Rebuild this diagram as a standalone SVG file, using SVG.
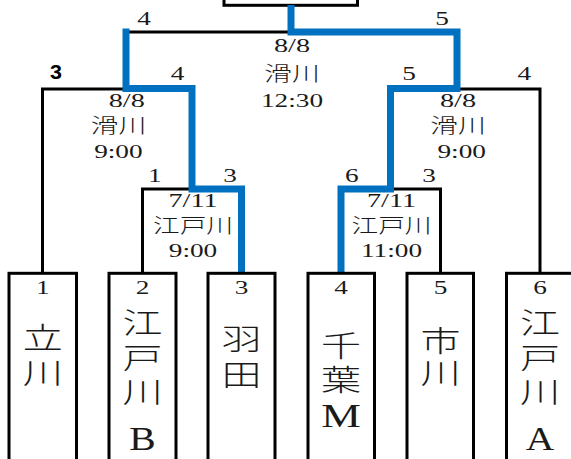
<svg xmlns="http://www.w3.org/2000/svg" width="571" height="459" viewBox="0 0 571 459">
<style>
.bg{fill:#fff}
.box{fill:#fff;stroke:#000;stroke-width:3}
.blk{fill:none;stroke:#000;stroke-width:3;stroke-linecap:square}
.blu{fill:none;stroke:#0070C0;stroke-width:7;stroke-linecap:butt;stroke-linejoin:miter}
text{font-family:"Liberation Serif","Noto Sans CJK JP",serif;text-anchor:middle;fill:#1a1a1a}
.n{font-size:19.5px}
.k{font-size:20.5px;font-family:"Noto Sans CJK JP",sans-serif;font-weight:300}
.b{font-size:19.5px;font-family:"Liberation Sans",sans-serif;font-weight:bold;fill:#000}
.bk{font-size:29px;font-family:"Noto Sans CJK JP",sans-serif;font-weight:300;writing-mode:vertical-rl;text-anchor:start;letter-spacing:5.5px}
.bl{font-size:33px}
</style>
<rect class="bg" x="0" y="0" width="571" height="459"/>
<g id="final-box"><rect class="box" x="224" y="-20" width="133.5" height="25.3"/></g>
<g id="connectors">
<path class="blk" d="M126,32 H291"/>
<path class="blk" d="M42.5,273 V89 H126"/>
<path class="blk" d="M142.5,273 V189 H192"/>
<path class="blk" d="M457,89 H540 V273"/>
<path class="blk" d="M390.5,189 H440.5 V273"/>
<path class="blu" d="M291,5 V32 H457 V88.5 H390.5 V189 H341 V273"/>
<path class="blu" d="M126,28.5 V88.5 H192 V189 H241.5 V273"/>
</g>
<g id="labels">
<text class="n" transform="translate(144,25) scale(1.4,1)">4</text>
<text class="n" transform="translate(442,25) scale(1.4,1)">5</text>
<text class="n" transform="translate(292,52) scale(1.45,1)">8/8</text>
<text class="k" transform="translate(292,80.5) scale(1.35,1)">滑川</text>
<text class="n" transform="translate(292,107) scale(1.4,1)">12:30</text>
<text class="b" transform="translate(56,79) scale(1.1,1)">3</text>
<text class="n" transform="translate(177.6,80) scale(1.4,1)">4</text>
<text class="n" transform="translate(409,80) scale(1.4,1)">5</text>
<text class="n" transform="translate(524.4,80) scale(1.4,1)">4</text>
<text class="n" transform="translate(126.7,107) scale(1.45,1)">8/8</text>
<text class="k" transform="translate(118.4,133) scale(1.35,1)">滑川</text>
<text class="n" transform="translate(118.4,158) scale(1.4,1)">9:00</text>
<text class="n" transform="translate(458,107) scale(1.45,1)">8/8</text>
<text class="k" transform="translate(458,133) scale(1.35,1)">滑川</text>
<text class="n" transform="translate(461.7,158) scale(1.4,1)">9:00</text>
<text class="n" transform="translate(154.8,182) scale(1.4,1)">1</text>
<text class="n" transform="translate(230,182) scale(1.4,1)">3</text>
<text class="n" transform="translate(351.8,182) scale(1.4,1)">6</text>
<text class="n" transform="translate(429,182) scale(1.4,1)">3</text>
<text class="n" transform="translate(193,207) scale(1.45,1)">7/11</text>
<text class="k" transform="translate(193,233) scale(1.3,1)">江戸川</text>
<text class="n" transform="translate(193,257) scale(1.4,1)">9:00</text>
<text class="n" transform="translate(391.5,207) scale(1.45,1)">7/11</text>
<text class="k" transform="translate(391.5,233) scale(1.3,1)">江戸川</text>
<text class="n" transform="translate(391.5,257) scale(1.4,1)">11:00</text>
</g>
<g id="team1">
<rect class="box" x="9" y="273.3" width="67.5" height="200"/>
<text class="n" transform="translate(42.8,294) scale(1.4,1)">1</text>
<text class="bk" transform="translate(42.8,323.5) scale(1.38,1)" x="0" y="0">立川</text>
</g>
<g id="team2">
<rect class="box" x="109" y="273.3" width="67" height="200"/>
<text class="n" transform="translate(142.5,294) scale(1.4,1)">2</text>
<text class="bk" transform="translate(142.5,308.8) scale(1.38,1)" x="0" y="0">江戸川</text>
<text class="bl" transform="translate(142.5,450) scale(1.2,1)">B</text>
</g>
<g id="team3">
<rect class="box" x="208" y="273.3" width="67" height="200"/>
<text class="n" transform="translate(241.5,294) scale(1.4,1)">3</text>
<text class="bk" transform="translate(241.5,324.5) scale(1.38,1)" x="0" y="0" style="letter-spacing:6.5px">羽田</text>
</g>
<g id="team4">
<rect class="box" x="308" y="273.3" width="66.5" height="200"/>
<text class="n" transform="translate(341,294) scale(1.4,1)">4</text>
<text class="bk" transform="translate(341,331.3) scale(1.38,1)" x="0" y="0">千葉</text>
<text class="bl" transform="translate(341,426.7) scale(1.35,1)">M</text>
</g>
<g id="team5">
<rect class="box" x="407" y="273.3" width="66.5" height="200"/>
<text class="n" transform="translate(440.5,294) scale(1.4,1)">5</text>
<text class="bk" transform="translate(440.5,326) scale(1.38,1)" x="0" y="0" style="letter-spacing:3.5px">市川</text>
</g>
<g id="team6">
<rect class="box" x="506.5" y="273.3" width="67" height="200"/>
<text class="n" transform="translate(540,294) scale(1.4,1)">6</text>
<text class="bk" transform="translate(540,308.8) scale(1.38,1)" x="0" y="0">江戸川</text>
<text class="bl" transform="translate(540,450) scale(1.2,1)">A</text>
</g>
</svg>
